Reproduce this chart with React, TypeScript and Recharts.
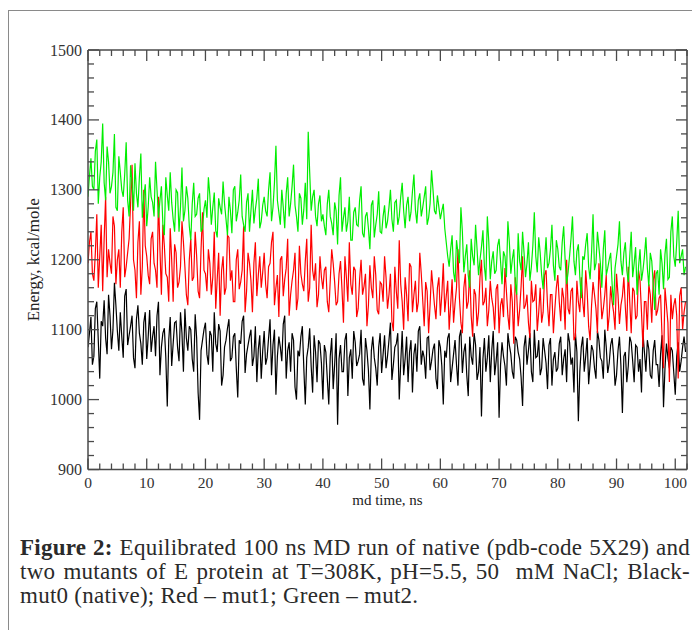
import React from 'react';
import { LineChart, Line, XAxis, YAxis, Label } from 'recharts';

// Samples every 0.5 ns at t = 0, 0.5, 1, ... (A) and at t = 0.25, 0.75, ... (B)

// Black - mut0 (native)
const MUT0_A: number[] = [
  1075, 1118, 1062, 1140, 1030, 1105, 1088, 1150, 1072, 1167, 1098, 1125, 1060, 1158, 1092, 1120, 1045, 1135, 1080, 1110,
  1058, 1128, 1090, 1062, 1140, 1075, 1102, 990, 1118, 1080, 1112, 1055, 1095, 1130, 1070, 1100, 1040, 1088, 971, 1085,
  1110, 1050, 1092, 1125, 1068, 1098, 1035, 1085, 1115, 1060, 1095, 1003, 1080, 1120, 1065, 1090, 1048, 1105, 1072, 1030,
  1098, 1060, 1115, 1078, 1007, 1090, 1055, 1120, 1070, 1040, 1085, 1000, 1062, 1105, 993, 1075, 1048, 1092, 1025, 1080,
  1000, 1068, 993, 1088, 1050, 964, 1078, 1040, 1095, 1060, 1030, 1082, 1055, 1100, 1020, 1070, 986, 1090, 1045, 1075,
  1038, 1092, 1062, 1110, 1050, 1080, 1000, 1098, 1058, 1025, 1085, 1065, 1040, 1105, 1070, 1030, 1090, 1055, 1080, 1015,
  1075, 993, 1060, 1095, 1045, 1085, 1020, 1100, 1068, 1035, 1090, 1050, 1078, 1040, 976, 1088, 1060, 1025, 1098, 1055,
  974, 1082, 1048, 1095, 1065, 1030, 1085, 1058, 991, 1092, 1070, 1040, 1100, 1062, 1035, 1088, 1052, 1078, 1020, 1068,
  1045, 1090, 1058, 1025, 1082, 1060, 1095, 969, 1075, 1040, 1088, 1050, 1070, 1030, 1085, 1055, 1100, 1038, 1078, 1062,
  1035, 1090, 981, 1068, 1048, 1082, 1025, 1075, 1058, 1095, 1040, 1072, 1030, 1085, 1050, 1065, 989, 1080, 1045, 1070,
  1007, 1082, 1055, 1090,
];
const MUT0_B: number[] = [
  1095, 1050, 1130, 1085, 1112, 1142, 1065, 1120, 1100, 1135, 1070, 1090, 1148, 1078, 1105, 1060, 1115, 1095, 1050, 1125,
  1090, 1068, 1105, 1120, 1035, 1095, 1060, 1085, 1048, 1110, 1075, 1125, 1040, 1088, 1105, 1058, 1122, 1010, 1070, 1100,
  1065, 1098, 1040, 1080, 1108, 1020, 1075, 1102, 1055, 1090, 1045, 1085, 1112, 1038, 1078, 1100, 1062, 1025, 1092, 1070,
  1050, 1088, 1035, 1100, 1062, 1075, 1108, 1030, 1082, 1095, 1018, 1070, 1090, 1045, 1060, 1102, 1010, 1068, 1085, 1052,
  1078, 1030, 1062, 1015, 1095, 1058, 1040, 1085, 1005, 1072, 1098, 1048, 1065, 1030, 1088, 1042, 1070, 1060, 1020, 1095,
  1065, 1045, 1085, 1028, 1075, 1095, 1052, 1035, 1090, 1068, 1010, 1080, 1098, 1050, 1060, 1088, 1042, 1072, 1030, 1085,
  1048, 1070, 1088, 1025, 1065, 1050, 1090, 1038, 1080, 1005, 1062, 1095, 1028, 1075, 1058, 1040, 1092, 1070, 1035, 1082,
  1050, 1062, 1020, 1078, 1040, 1090, 1068, 1032, 1075, 1050, 1095, 1025, 1060, 1085, 1045, 1070, 1015, 1088, 1058, 1040,
  1080, 1035, 1072, 1095, 1050, 1010, 1068, 1040, 1090, 1062, 1022, 1078, 1045, 1098, 1060, 1030, 1075, 1052, 1088, 1020,
  1070, 1048, 1062, 1025, 1090, 1055, 1078, 1040, 1010, 1068, 1085, 1035, 1070, 1050, 1018, 1092, 1045, 1060, 1075, 1038,
  1062, 1040, 1075, 1068,
];

// Red - mut1
const MUT1_A: number[] = [
  1195, 1240, 1170, 1265, 1205, 1155, 1290, 1215, 1180, 1248, 1200, 1160, 1275, 1190, 1230, 1336, 1185, 1225, 1150, 1300,
  1205, 1165, 1240, 1185, 1290, 1150, 1220, 1175, 1245, 1140, 1210, 1168, 1255, 1190, 1135, 1230, 1175, 1205, 1145, 1268,
  1180, 1215, 1150, 1240, 1172, 1120, 1205, 1160, 1232, 1185, 1140, 1215, 1168, 1248, 1155, 1195, 1125, 1225, 1178, 1160,
  1210, 1145, 1195, 1240, 1160, 1118, 1205, 1172, 1230, 1150, 1185, 1128, 1220, 1165, 1198, 1140, 1250, 1170, 1132, 1205,
  1158, 1190, 1125, 1215, 1168, 1140, 1198, 1110, 1175, 1225, 1150, 1185, 1130, 1200, 1162, 1105, 1192, 1145, 1178, 1122,
  1165, 1205, 1130, 1180, 1098, 1155, 1228, 1140, 1175, 1112, 1190, 1150, 1125, 1210, 1142, 1168, 1095, 1185, 1135, 1160,
  1120, 1195, 1148, 1100, 1172, 1138, 1215, 1110, 1160, 1130, 1185, 1090, 1150, 1125, 1200, 1140, 1105, 1170, 1132, 1158,
  1095, 1145, 1188, 1120, 1165, 1080, 1150, 1128, 1205, 1135, 1110, 1170, 1142, 1098, 1160, 1125, 1185, 1105, 1150, 1130,
  1178, 1112, 1145, 1200, 1122, 1160, 1090, 1140, 1175, 1118, 1155, 1085, 1168, 1130, 1195, 1115, 1150, 1098, 1162, 1125,
  1180, 1108, 1148, 1132, 1190, 1095, 1155, 1120, 1170, 1075, 1140, 1165, 1110, 1185, 1128, 1150, 1045, 1135, 1025, 1115,
  1145, 1030, 1160, 1125,
];
const MUT1_B: number[] = [
  1225, 1180, 1210, 1160, 1250, 1230, 1175, 1195, 1262, 1165, 1215, 1240, 1175, 1210, 1280, 1200, 1145, 1255, 1190, 1220,
  1178, 1230, 1195, 1160, 1215, 1250, 1180, 1140, 1200, 1222, 1160, 1190, 1225, 1150, 1200, 1170, 1240, 1155, 1215, 1185,
  1155, 1195, 1175, 1130, 1210, 1185, 1150, 1235, 1170, 1140, 1200, 1158, 1185, 1125, 1210, 1170, 1195, 1148, 1205, 1182,
  1165, 1190, 1225, 1135, 1178, 1200, 1148, 1188, 1120, 1170, 1210, 1145, 1180, 1155, 1230, 1160, 1185, 1195, 1150, 1175,
  1185, 1140, 1170, 1195, 1135, 1180, 1158, 1205, 1140, 1165, 1190, 1118, 1172, 1150, 1180, 1135, 1160, 1205, 1128, 1168,
  1140, 1175, 1150, 1112, 1190, 1130, 1165, 1100, 1150, 1195, 1125, 1170, 1140, 1180, 1105, 1155, 1135, 1160, 1115, 1175,
  1150, 1125, 1170, 1135, 1110, 1160, 1145, 1095, 1180, 1140, 1120, 1158, 1105, 1175, 1135, 1160, 1128, 1145, 1100, 1165,
  1135, 1118, 1155, 1100, 1140, 1175, 1105, 1162, 1130, 1150, 1088, 1140, 1165, 1125, 1110, 1178, 1135, 1150, 1095, 1160,
  1140, 1160, 1100, 1130, 1155, 1085, 1170, 1125, 1140, 1185, 1105, 1135, 1150, 1095, 1160, 1130, 1178, 1120, 1140, 1100,
  1150, 1135, 1175, 1098, 1140, 1160, 1115, 1185, 1125, 1140, 1100, 1150, 1170, 1120, 1145, 1090, 1160, 1110, 1150, 1135,
  1120, 1148, 1100, 1140,
];

// Green - mut2
const MUT2_A: number[] = [
  1290, 1345, 1300, 1372, 1318, 1395, 1285, 1340, 1305, 1380, 1270, 1325, 1290, 1368, 1262, 1310, 1338, 1275, 1352, 1290,
  1248, 1318, 1282, 1340, 1260, 1305, 1235, 1292, 1325, 1258, 1300, 1240, 1332, 1270, 1288, 1228, 1310, 1265, 1295, 1245,
  1285, 1318, 1250, 1296, 1232, 1275, 1312, 1258, 1290, 1238, 1305, 1268, 1322, 1250, 1282, 1240, 1300, 1272, 1316, 1255,
  1290, 1262, 1325, 1275, 1363, 1268, 1300, 1245, 1318, 1280, 1336, 1262, 1295, 1250, 1310, 1383, 1270, 1300, 1248, 1292,
  1265, 1235, 1300, 1252, 1282, 1222, 1318, 1260, 1240, 1290, 1228, 1275, 1248, 1305, 1232, 1268, 1215, 1285, 1250, 1298,
  1238, 1278, 1255, 1300, 1240, 1285, 1262, 1310, 1245, 1290, 1268, 1322, 1252, 1295, 1275, 1305, 1260, 1328, 1270, 1292,
  1258, 1280, 1225, 1190, 1235, 1168, 1210, 1275, 1182, 1222, 1160, 1205, 1250, 1178, 1218, 1190, 1262, 1172, 1212, 1185,
  1230, 1165, 1205, 1255, 1180, 1215, 1150, 1198, 1240, 1175, 1225, 1190, 1268, 1182, 1210, 1158, 1232, 1195, 1250, 1170,
  1215, 1185, 1248, 1165, 1205, 1262, 1178, 1222, 1145, 1200, 1238, 1172, 1265, 1195, 1218, 1160, 1242, 1188, 1210, 1135,
  1205, 1255, 1178, 1225, 1168, 1240, 1195, 1150, 1215, 1185, 1232, 1162, 1198, 1128, 1185, 1215, 1158, 1230, 1175, 1262,
  1190, 1270, 1205, 1178,
];
const MUT2_B: number[] = [
  1320, 1305, 1355, 1280, 1340, 1310, 1362, 1295, 1325, 1275, 1348, 1300, 1322, 1285, 1335, 1270, 1295, 1318, 1260, 1308,
  1275, 1290, 1262, 1300, 1285, 1250, 1318, 1270, 1282, 1240, 1296, 1275, 1255, 1305, 1248, 1280, 1262, 1288, 1240, 1272,
  1260, 1292, 1275, 1242, 1288, 1265, 1280, 1235, 1270, 1300, 1255, 1285, 1262, 1240, 1295, 1270, 1252, 1288, 1245, 1278,
  1270, 1300, 1255, 1310, 1285, 1250, 1275, 1295, 1262, 1305, 1278, 1240, 1288, 1272, 1258, 1325, 1290, 1262, 1280, 1255,
  1248, 1280, 1262, 1235, 1270, 1292, 1240, 1275, 1255, 1228, 1268, 1250, 1285, 1238, 1262, 1245, 1278, 1232, 1265, 1240,
  1262, 1245, 1275, 1258, 1282, 1250, 1290, 1270, 1278, 1255, 1298, 1272, 1285, 1262, 1290, 1250, 1280, 1300, 1265, 1275,
  1270, 1245, 1205, 1215, 1182, 1228, 1195, 1240, 1205, 1178, 1230, 1192, 1215, 1200, 1242, 1170, 1225, 1198, 1180, 1220,
  1198, 1212, 1175, 1225, 1200, 1168, 1238, 1185, 1210, 1195, 1170, 1220, 1205, 1232, 1178, 1200, 1188, 1215, 1192, 1228,
  1190, 1225, 1200, 1182, 1230, 1198, 1212, 1175, 1205, 1222, 1190, 1210, 1185, 1240, 1195, 1215, 1178, 1200, 1165, 1188,
  1222, 1198, 1210, 1185, 1205, 1175, 1218, 1190, 1170, 1205, 1188, 1210, 1165, 1180, 1150, 1195, 1208, 1172, 1240, 1205,
  1225, 1195, 1215, 1190,
];

const TIME_STEP = 0.5; // ns between samples of one array
const X_TICKS: number[] = [0, 10, 20, 30, 40, 50, 60, 70, 80, 90, 100];
const Y_TICKS: number[] = [900, 1000, 1100, 1200, 1300, 1400, 1500];
const X_DOMAIN: [number, number] = [0, 102];
const Y_DOMAIN: [number, number] = [900, 1500];

const X_ALL: number[] = [];
for (let v = 0; v <= 102; v += 2) X_ALL.push(v);
const Y_ALL: number[] = [];
for (let v = 900; v <= 1500; v += 20) Y_ALL.push(v);

const rows: { t: number; mut0: number; mut1: number; mut2: number }[] = [];
MUT0_A.forEach((v, i) => {
  rows.push({ t: i * TIME_STEP, mut0: v, mut1: MUT1_A[i], mut2: MUT2_A[i] });
  rows.push({ t: i * TIME_STEP + TIME_STEP / 2, mut0: MUT0_B[i], mut1: MUT1_B[i], mut2: MUT2_B[i] });
});

const SERIF = '"Liberation Serif", "DejaVu Serif", serif';
const AX = '#4a4a4a';
const axisLine = { stroke: AX, strokeWidth: 1.5 };
const MAJOR_LEN = 11;
const MINOR_LEN = 6;

const isMajorX = (v: number) => X_TICKS.indexOf(v) >= 0;
const isMajorY = (v: number) => Y_TICKS.indexOf(v) >= 0;

const BottomTick = (p: any) => {
  const v = p.payload.value;
  const major = isMajorX(v);
  return (
    <g>
      <line x1={p.x} x2={p.x} y1={p.y} y2={p.y - (major ? MAJOR_LEN : MINOR_LEN)} stroke={AX} strokeWidth={1.3} />
      {major && (
        <text x={p.x} y={p.y + 13} textAnchor="middle" dominantBaseline="central"
          fontFamily={SERIF} fontSize={15.5} fill="#333">
          {v}
        </text>
      )}
    </g>
  );
};

const TopTick = (p: any) => {
  const major = isMajorX(p.payload.value);
  return (
    <line x1={p.x} x2={p.x} y1={p.y} y2={p.y + (major ? MAJOR_LEN : MINOR_LEN)} stroke={AX} strokeWidth={1.3} />
  );
};

const LeftTick = (p: any) => {
  const v = p.payload.value;
  const major = isMajorY(v);
  return (
    <g>
      <line x1={p.x} x2={p.x + (major ? MAJOR_LEN : MINOR_LEN)} y1={p.y} y2={p.y} stroke={AX} strokeWidth={1.3} />
      {major && (
        <text x={p.x - 6} y={p.y} textAnchor="end" dominantBaseline="central"
          fontFamily={SERIF} fontSize={16} fill="#333">
          {v}
        </text>
      )}
    </g>
  );
};

const RightTick = (p: any) => {
  const major = isMajorY(p.payload.value);
  return (
    <line x1={p.x} x2={p.x - (major ? MAJOR_LEN : MINOR_LEN)} y1={p.y} y2={p.y} stroke={AX} strokeWidth={1.3} />
  );
};

export default function App() {
  return (
    <div style={{ position: 'relative', width: 692, height: 622, overflow: 'hidden' }}>
      <style>{'body{overflow:hidden}'}</style>
      <div
        style={{
          position: 'absolute',
          left: 0,
          top: 2,
          width: 692,
          height: 620,
          borderTop: '1.5px solid #8a8a8a',
          borderLeft: '1.5px solid #8a8a8a',
          boxSizing: 'border-box',
        }}
      />
      <div style={{ position: 'absolute', left: 0, top: 0 }}>
        <LineChart
          width={692}
          height={510}
          data={rows}
          margin={{ top: 32, right: 3, bottom: 8, left: 20 }}
        >
          <XAxis xAxisId="xt" orientation="top" type="number" dataKey="t" domain={X_DOMAIN} ticks={X_ALL}
            allowDataOverflow height={10} axisLine={axisLine} tickLine={false} tickSize={0} tickMargin={0}
            tick={TopTick} interval={0} />
          <YAxis yAxisId="yr" orientation="right" type="number" domain={Y_DOMAIN} ticks={Y_ALL}
            allowDataOverflow width={10} axisLine={axisLine} tickLine={false} tickSize={0} tickMargin={0}
            tick={RightTick} interval={0} />
          <XAxis xAxisId="x" type="number" dataKey="t" domain={X_DOMAIN} ticks={X_ALL}
            allowDataOverflow height={40.5} axisLine={axisLine} tickLine={false} tickSize={0} tickMargin={0}
            tick={BottomTick} interval={0}>
            <Label
              content={(props: any) => {
                const vb = props.viewBox || {};
                return (
                  <text x={vb.x + vb.width / 2} y={vb.y + 30} textAnchor="middle" dominantBaseline="central"
                    fontFamily={SERIF} fontSize={15} fill="#222">
                    md time, ns
                  </text>
                );
              }}
            />
          </XAxis>
          <YAxis yAxisId="y" type="number" domain={Y_DOMAIN} ticks={Y_ALL}
            allowDataOverflow width={60} axisLine={axisLine} tickLine={false} tickSize={0} tickMargin={0}
            tick={LeftTick} interval={0}>
            <Label
              content={(props: any) => {
                const vb = props.viewBox || {};
                const cx = vb.x + vb.width - 55;
                const cy = vb.y + vb.height / 2;
                return (
                  <text x={cx} y={cy} textAnchor="middle" dominantBaseline="central"
                    transform={`rotate(-90, ${cx}, ${cy})`}
                    fontFamily={SERIF} fontSize={17} fill="#222">
                    Energy, kcal/mole
                  </text>
                );
              }}
            />
          </YAxis>

          <Line xAxisId="x" yAxisId="y" dataKey="mut0" stroke="#000000" strokeWidth={1.2} dot={false} isAnimationActive={false} />
          <Line xAxisId="x" yAxisId="y" dataKey="mut1" stroke="#ff0000" strokeWidth={1.2} dot={false} isAnimationActive={false} />
          <Line xAxisId="x" yAxisId="y" dataKey="mut2" stroke="#00ee00" strokeWidth={1.2} dot={false} isAnimationActive={false} />
        </LineChart>
      </div>
      <div
        style={{
          position: 'absolute',
          left: 12,
          top: 528,
          width: 670,
          fontFamily: SERIF,
          fontSize: 23,
          lineHeight: '24px',
          letterSpacing: '0.25px',
          color: '#2a2a2a',
        }}
      >
        <div style={{ textAlign: 'justify', textAlignLast: 'justify', whiteSpace: 'nowrap' }}>
          <b>Figure 2:</b> Equilibrated 100 ns MD run of native (pdb-code 5X29) and
        </div>
        <div style={{ textAlign: 'justify', textAlignLast: 'justify', whiteSpace: 'nowrap' }}>
          two mutants of E protein at T=308K, pH=5.5, 50{'\u00a0'} mM NaCl; Black-
        </div>
        <div style={{ whiteSpace: 'nowrap' }}>mut0 (native); Red – mut1; Green – mut2.</div>
      </div>
    </div>
  );
}
